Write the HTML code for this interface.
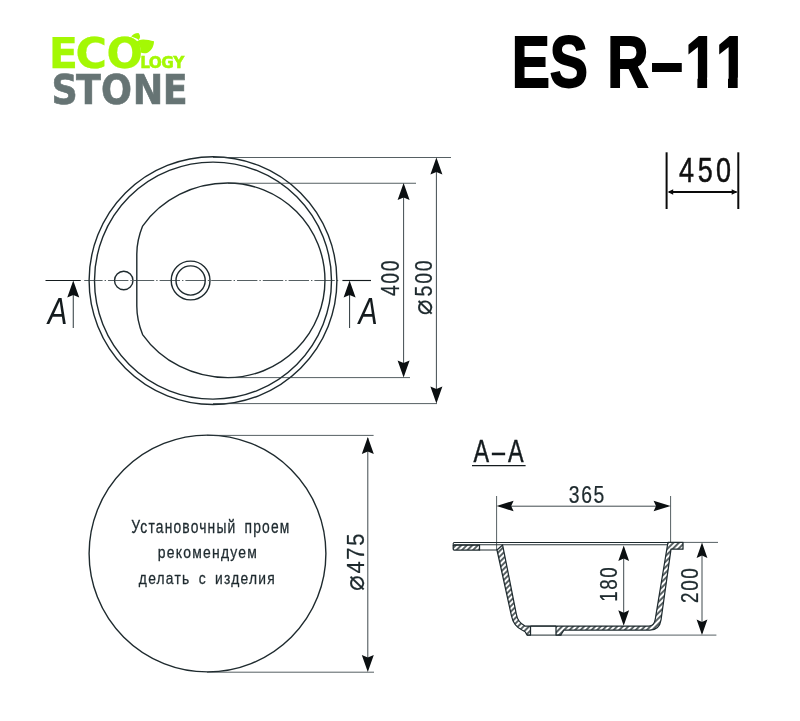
<!DOCTYPE html>
<html lang="ru"><head><meta charset="utf-8"><title>ES R-11</title>
<style>
html,body{margin:0;padding:0;background:#fff;}
body{width:800px;height:721px;overflow:hidden;}
svg{display:block;will-change:transform;}
text{white-space:pre;}
</style></head>
<body>
<svg width="800" height="721" viewBox="0 0 800 721">
<rect width="800" height="721" fill="#ffffff"/>
<g id="logo">
<text transform="translate(0,68.20) scale(1.0000,1)" x="48.65 75.46 106.38" font-family='"DejaVu Sans", sans-serif' font-weight="700" font-size="42.90" fill="#a4f804" stroke="#a4f804" stroke-width="0.25" stroke-linejoin="miter">ECO</text>
<text transform="translate(0,68.30) scale(0.9300,1)" x="150.77 159.98 173.48 186.28" font-family='"DejaVu Sans", sans-serif' font-weight="700" font-size="16.50" fill="#a4f804" stroke="#a4f804" stroke-width="0.5" stroke-linejoin="miter">LOGY</text>
<text transform="translate(0,104.00) scale(0.9000,1)" x="57.11 84.53 112.13 147.61 180.79" font-family='"DejaVu Sans", sans-serif' font-weight="700" font-size="40.50" fill="#667474" stroke="#667474" stroke-width="0.6" stroke-linejoin="miter">STONE</text>
<path d="M131.2 36.6 C132.6 34.6 135 33.2 138.4 33 C140.2 34.6 140.8 37.6 138.7 40 C136.6 38.4 134 37.4 131.2 36.6 Z" fill="#a4f804"/>
<path d="M135.6 42.6 C137.6 40.6 140 39.7 143.2 39.6 C147 39.6 150.5 40.6 154 41.3 C154 46 151.6 50.6 148 52.4 C145.6 53.6 142.6 53.6 140.2 52.2 C141.6 48.6 139.6 44.6 135.6 42.6 Z" fill="#a4f804"/>
</g>
<text transform="translate(0,86.60) scale(0.7900,1)" x="647.94 696.02 744.31 768.57 824.01 867.46 906.20" font-family='"Liberation Sans", sans-serif' font-weight="700" font-size="72.40" fill="#000" stroke="#000" stroke-width="1.8" stroke-linejoin="miter">ES R–11</text>
<rect x="686.0" y="77.6" width="11.4" height="11" fill="#fff"/>
<rect x="707.1" y="77.6" width="11.5" height="11.6" fill="#fff"/>
<rect x="716.6" y="77.6" width="11.4" height="11" fill="#fff"/>
<rect x="737.7" y="77.6" width="11.5" height="11.6" fill="#fff"/>
<line x1="666.6" y1="152.3" x2="666.6" y2="209" stroke="#0a0a0a" stroke-width="2.0"/>
<line x1="738.3" y1="152.3" x2="738.3" y2="209" stroke="#0a0a0a" stroke-width="2.0"/>
<line x1="669" y1="192" x2="736.5" y2="192" stroke="#0a0a0a" stroke-width="1.9"/>
<polygon points="667.60,192.00 673.20,189.20 673.20,192.00 673.20,194.80" fill="#0a0a0a"/>
<polygon points="737.30,192.00 731.70,194.80 731.70,192.00 731.70,189.20" fill="#0a0a0a"/>
<text transform="translate(0,182.00) scale(0.7800,1)" x="870.62 894.58 918.07" font-family='"Liberation Sans", sans-serif' font-weight="400" font-size="34.60" fill="#101010" stroke="#101010" stroke-width="0.5" stroke-linejoin="miter">450</text>
<g fill="none" stroke="#1e2a2e" stroke-width="1.4">
<circle cx="213.0" cy="280.6" r="123.9"/>
<circle cx="213.0" cy="280.6" r="118.5"/>
<path d="M227.7 183.00 A97.3 97.3 0 0 1 227.7 377.60 A102.5 97.3 0 0 1 142.6 334.54 C139.6 327.04 136.8 318 136.8 306 L136.8 254 C136.8 242 139.6 233.56 142.6 226.06 A102.5 97.3 0 0 1 227.7 183.00 Z"/>
<circle cx="123.75" cy="280.5" r="9.25"/>
<circle cx="190.6" cy="280.5" r="19.4"/>
<circle cx="190.6" cy="280.5" r="14.6"/>
</g>
<line x1="84.2" y1="280.5" x2="340" y2="280.5" stroke="#2b373b" stroke-width="0.8" stroke-dasharray="20.4 2 1.4 2" stroke-dashoffset="2"/>
<line x1="45.5" y1="280.5" x2="80.75" y2="280.5" stroke="#141b1e" stroke-width="1.15"/>
<line x1="342.4" y1="280.5" x2="371" y2="280.5" stroke="#141b1e" stroke-width="1.15"/>
<line x1="73.25" y1="285" x2="73.25" y2="328" stroke="#2b373b" stroke-width="1.0"/>
<line x1="349.6" y1="285" x2="349.6" y2="328" stroke="#2b373b" stroke-width="1.0"/>
<polygon points="73.25,280.50 79.25,297.50 73.25,295.10 67.25,297.50" fill="#0b0f11"/>
<polygon points="349.60,280.50 355.60,297.50 349.60,295.10 343.60,297.50" fill="#0b0f11"/>
<text transform="translate(47.70,323.75) scale(0.8099,1)" font-family='"Liberation Sans", sans-serif' font-weight="400" font-style="italic" font-size="36.34" fill="#141b1e">A</text>
<text transform="translate(358.41,323.60) scale(0.7767,1)" font-family='"Liberation Sans", sans-serif' font-weight="400" font-style="italic" font-size="36.92" fill="#141b1e">A</text>
<line x1="213" y1="157.5" x2="451" y2="157.5" stroke="#2b373b" stroke-width="0.8"/>
<line x1="213" y1="403.6" x2="437" y2="403.6" stroke="#2b373b" stroke-width="0.8"/>
<line x1="228" y1="183.25" x2="416" y2="183.25" stroke="#2b373b" stroke-width="0.8"/>
<line x1="228" y1="377.6" x2="410" y2="377.6" stroke="#2b373b" stroke-width="0.8"/>
<line x1="436.4" y1="160" x2="436.4" y2="401" stroke="#2b373b" stroke-width="0.9"/>
<line x1="403.6" y1="186" x2="403.6" y2="375" stroke="#2b373b" stroke-width="0.9"/>
<polygon points="436.40,157.50 442.40,174.50 436.40,172.10 430.40,174.50" fill="#0b0f11"/>
<polygon points="436.40,403.60 430.40,386.60 436.40,389.00 442.40,386.60" fill="#0b0f11"/>
<polygon points="403.60,183.00 409.60,200.00 403.60,197.60 397.60,200.00" fill="#0b0f11"/>
<polygon points="403.60,377.60 397.60,360.60 403.60,363.00 409.60,360.60" fill="#0b0f11"/>
<text transform="translate(399.40,296.05) rotate(-90) scale(0.7761,1)" font-family='"Liberation Sans", sans-serif' font-weight="400" font-size="25.06" fill="#1e2a2e" stroke="#1e2a2e" stroke-width="0.25" stroke-linejoin="round" letter-spacing="2.0">400</text>
<text transform="translate(431.90,296.38) rotate(-90) scale(0.8357,1)" font-family='"Liberation Sans", sans-serif' font-weight="400" font-size="23.34" fill="#1e2a2e" stroke="#1e2a2e" stroke-width="0.25" stroke-linejoin="round" letter-spacing="2.0">500</text>
<text transform="translate(432.30,315.15) rotate(-90) scale(0.9678,1)" font-family='"DejaVu Sans", sans-serif' font-weight="400" font-size="27.25" fill="#1e2a2e" stroke="#1e2a2e" stroke-width="0.2" stroke-linejoin="round">⌀</text>
<circle cx="207.5" cy="553.5" r="118.4" fill="none" stroke="#1e2a2e" stroke-width="1.4"/>
<line x1="207" y1="435.4" x2="373.6" y2="435.4" stroke="#2b373b" stroke-width="0.8"/>
<line x1="207" y1="672.2" x2="374" y2="672.2" stroke="#2b373b" stroke-width="0.8"/>
<line x1="367.8" y1="438" x2="367.8" y2="669" stroke="#2b373b" stroke-width="0.9"/>
<polygon points="367.80,437.00 373.80,454.00 367.80,451.60 361.80,454.00" fill="#0b0f11"/>
<polygon points="367.80,672.00 361.80,655.00 367.80,657.40 373.80,655.00" fill="#0b0f11"/>
<text transform="translate(363.50,573.60) rotate(-90) scale(0.8873,1)" font-family='"Liberation Sans", sans-serif' font-weight="400" font-size="24.70" fill="#1e2a2e" stroke="#1e2a2e" stroke-width="0.25" stroke-linejoin="round" letter-spacing="2.0">475</text>
<text transform="translate(363.60,590.95) rotate(-90) scale(0.9678,1)" font-family='"DejaVu Sans", sans-serif' font-weight="400" font-size="27.25" fill="#1e2a2e" stroke="#1e2a2e" stroke-width="0.2" stroke-linejoin="round">⌀</text>
<text transform="translate(131.33,532.50) scale(0.7745,1)" font-family='"Liberation Sans", sans-serif' font-weight="400" font-size="17.88" fill="#1e2a2f" stroke="#1e2a2f" stroke-width="0.3" stroke-linejoin="round" letter-spacing="1.5" word-spacing="4">Установочный проем</text>
<text transform="translate(157.80,558.40) scale(0.8187,1)" font-family='"Liberation Sans", sans-serif' font-weight="400" font-size="17.04" fill="#1e2a2f" stroke="#1e2a2f" stroke-width="0.3" stroke-linejoin="round" letter-spacing="1.5">рекомендуем</text>
<text transform="translate(138.87,583.60) scale(0.8110,1)" font-family='"Liberation Sans", sans-serif' font-weight="400" font-size="17.04" fill="#1e2a2f" stroke="#1e2a2f" stroke-width="0.3" stroke-linejoin="round" letter-spacing="1.5" word-spacing="4">делать с изделия</text>
<text transform="translate(0,462.00) scale(0.7670,1)" x="617.34 641.59 662.32" font-family='"Liberation Sans", sans-serif' font-weight="400" font-size="30.50" fill="#141b1e" stroke="#141b1e" stroke-width="0.45" stroke-linejoin="miter">A–A</text>
<line x1="472" y1="465.6" x2="525.6" y2="465.6" stroke="#141b1e" stroke-width="1.2"/>
<text transform="translate(568.86,502.60) scale(0.8141,1)" font-family='"Liberation Sans", sans-serif' font-weight="400" font-size="23.77" fill="#1e2a2e" stroke="#1e2a2e" stroke-width="0.25" stroke-linejoin="round" letter-spacing="2.0">365</text>
<line x1="496.6" y1="496" x2="496.6" y2="550" stroke="#2b373b" stroke-width="0.8"/>
<line x1="670.6" y1="496" x2="670.6" y2="543" stroke="#2b373b" stroke-width="0.8"/>
<line x1="499" y1="506.2" x2="668" y2="506.2" stroke="#2b373b" stroke-width="0.9"/>
<polygon points="496.60,506.00 513.60,500.75 511.20,506.00 513.60,511.25" fill="#0b0f11"/>
<polygon points="670.60,506.00 653.60,511.25 656.00,506.00 653.60,500.75" fill="#0b0f11"/>
<line x1="683" y1="542.4" x2="718" y2="542.4" stroke="#2b373b" stroke-width="0.8"/>
<line x1="562" y1="635.1" x2="716.4" y2="635.1" stroke="#2b373b" stroke-width="0.8"/>
<line x1="702" y1="545" x2="702" y2="633" stroke="#2b373b" stroke-width="0.9"/>
<polygon points="702.00,542.40 707.40,557.90 702.00,555.50 696.60,557.90" fill="#0b0f11"/>
<polygon points="702.00,635.10 696.60,619.60 702.00,622.00 707.40,619.60" fill="#0b0f11"/>
<line x1="623.7" y1="548" x2="623.7" y2="623" stroke="#2b373b" stroke-width="0.9"/>
<polygon points="623.70,545.40 629.10,560.90 623.70,558.50 618.30,560.90" fill="#0b0f11"/>
<polygon points="623.70,625.80 618.30,610.30 623.70,612.70 629.10,610.30" fill="#0b0f11"/>
<text transform="translate(617.40,601.83) rotate(-90) scale(0.8004,1)" font-family='"Liberation Sans", sans-serif' font-weight="400" font-size="23.49" fill="#1e2a2e" stroke="#1e2a2e" stroke-width="0.25" stroke-linejoin="round" letter-spacing="2.0">180</text>
<text transform="translate(698.00,602.95) rotate(-90) scale(0.7775,1)" font-family='"Liberation Sans", sans-serif' font-weight="400" font-size="24.35" fill="#1e2a2e" stroke="#1e2a2e" stroke-width="0.25" stroke-linejoin="round" letter-spacing="2.0">200</text>
<defs><pattern id="h" width="3.9" height="3.9" patternUnits="userSpaceOnUse" patternTransform="rotate(-45)"><line x1="0" y1="1.95" x2="3.9" y2="1.95" stroke="#1e2a2e" stroke-width="1.45"/></pattern></defs>
<path d="M454.2 545 H479.5 V550 H454.2 Q453.2 550 453.2 549 V546 Q453.2 545 454.2 545 Z" fill="url(#h)" stroke="#1e2a2e" stroke-width="1.25"/>
<path d="M453.2 546 V543.4 Q453.2 542.4 454.2 542.4 H683" fill="none" stroke="#1e2a2e" stroke-width="1.05"/>
<line x1="453.5" y1="544.75" x2="667.5" y2="544.75" stroke="#1e2a2e" stroke-width="0.95"/>
<line x1="479.5" y1="550" x2="497" y2="550" stroke="#1e2a2e" stroke-width="1.0"/>
<path d="M497 550 L502.6 545 L516.3 614 Q517.5 622 525 626 L562 626 L649 626 Q654.2 626 655.3 619 L667.5 545 L668 542.4 L683 542.4 L683 549.2 L671 549.2 L661 620 Q659.5 630 650 630 L564 630 L560.8 635 L556 635 L556 626 L530.5 626 L530.5 635 L527 635 Q526 631.5 522 630 Q513.5 626 511.5 616 Z" fill="url(#h)" stroke="#1e2a2e" stroke-width="1.25" stroke-linejoin="round"/>
<line x1="527" y1="635.1" x2="562" y2="635.1" stroke="#1e2a2e" stroke-width="1.0"/>
<line x1="530.5" y1="626" x2="556" y2="626" stroke="#1e2a2e" stroke-width="1.0"/>
</svg>
</body></html>
